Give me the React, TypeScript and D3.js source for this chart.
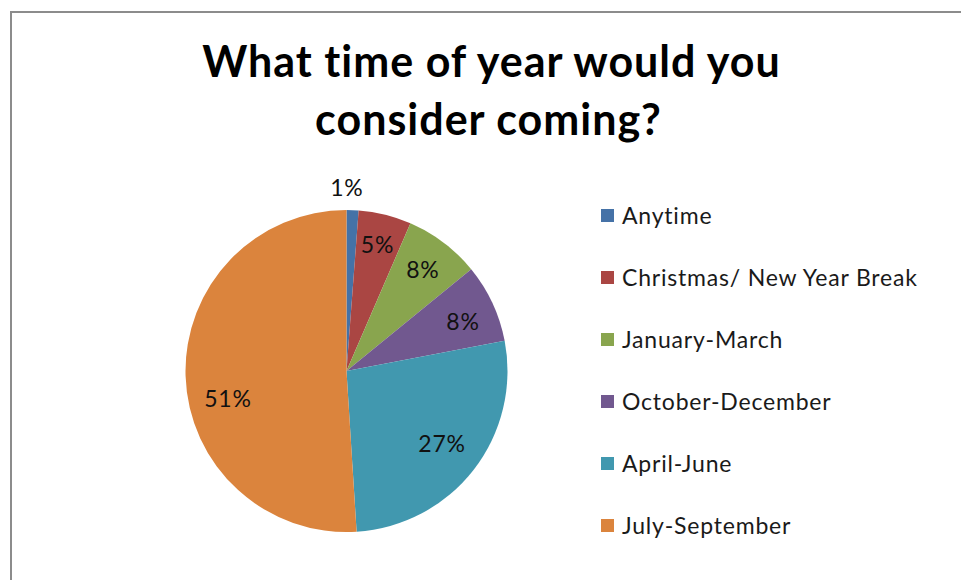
import React from "react";
import * as d3 from "d3";

const categories = [
  "Anytime",
  "Christmas/ New Year Break",
  "January-March",
  "October-December",
  "April-June",
  "July-September",
];
const values = [1.2, 5.3, 7.6, 7.9, 27.0, 51.0];
const labels = ["1%", "5%", "8%", "8%", "27%", "51%"];
const colors = ["#4572a7", "#aa4643", "#89a54e", "#71588f", "#4198af", "#db843d"];
const titleLines = ["What time of year would you", "consider coming?"];

const W = 961;
const H = 580;
const cx = 346.5;
const cy = 371;
const R = 161;
// label placement tuning (layout, not data)
const labelRadii = [183, 129.6, 126.7, 126.4, 121, 120];
const labelShift: [number, number][] = [[-6.5, 0], [0, 0], [0, 0], [2, 4.4], [0, -1], [1.4, 23.8]];

export default function App() {
  const pie = d3.pie<number>().sort(null).value((d) => d);
  const arcs = pie(values);
  const arc = d3.arc<d3.PieArcDatum<number>>().innerRadius(0).outerRadius(R);
  const legendY = d3.scaleLinear().domain([0, categories.length - 1]).range([216, 526]);
  const font = "Lato, 'Open Sans', sans-serif";
  const noLig = { fontVariantLigatures: "none" as const };
  return (
    <svg width={W} height={H} style={{ position: "absolute", left: 0, top: 0 }}>
      <rect x={0} y={0} width={W} height={H} fill="#fff" />
      <rect x={11} y={12} width={W + 20} height={H + 20} fill="none" stroke="#8c8c8c" strokeWidth={2} />
      <g fontFamily={font} fontWeight="bold" fontSize={43} fill="#000" textAnchor="middle" letterSpacing={1} style={noLig}>
        <text x={491.5} y={77}>{titleLines[0]}</text>
        <text x={488.5} y={135}>{titleLines[1]}</text>
      </g>
      <g transform={`translate(${cx},${cy})`}>
        {arcs.map((a, i) => (
          <path key={i} d={arc(a) || ""} fill={colors[i]} />
        ))}
        {arcs.map((a, i) => {
          const la = d3.arc<d3.PieArcDatum<number>>().innerRadius(labelRadii[i]).outerRadius(labelRadii[i]);
          const [x, y] = la.centroid(a);
          return (
            <text
              key={i}
              x={x + labelShift[i][0]}
              y={y + labelShift[i][1]}
              dy="0.35em"
              textAnchor="middle"
              fontFamily={font}
              fontSize={23}
              letterSpacing={0.8}
              fill="#111"
            >
              {labels[i]}
            </text>
          );
        })}
      </g>
      <g fontFamily={font} fontSize={23} letterSpacing={0.8} fill="#1a1a1a" style={noLig}>
        {categories.map((c, i) => (
          <g key={c} transform={`translate(601,${legendY(i)})`}>
            <rect x={0} y={-7} width={13} height={13} fill={colors[i]} />
            <text x={21} y={0} dy="0.35em">{c}</text>
          </g>
        ))}
      </g>
    </svg>
  );
}
